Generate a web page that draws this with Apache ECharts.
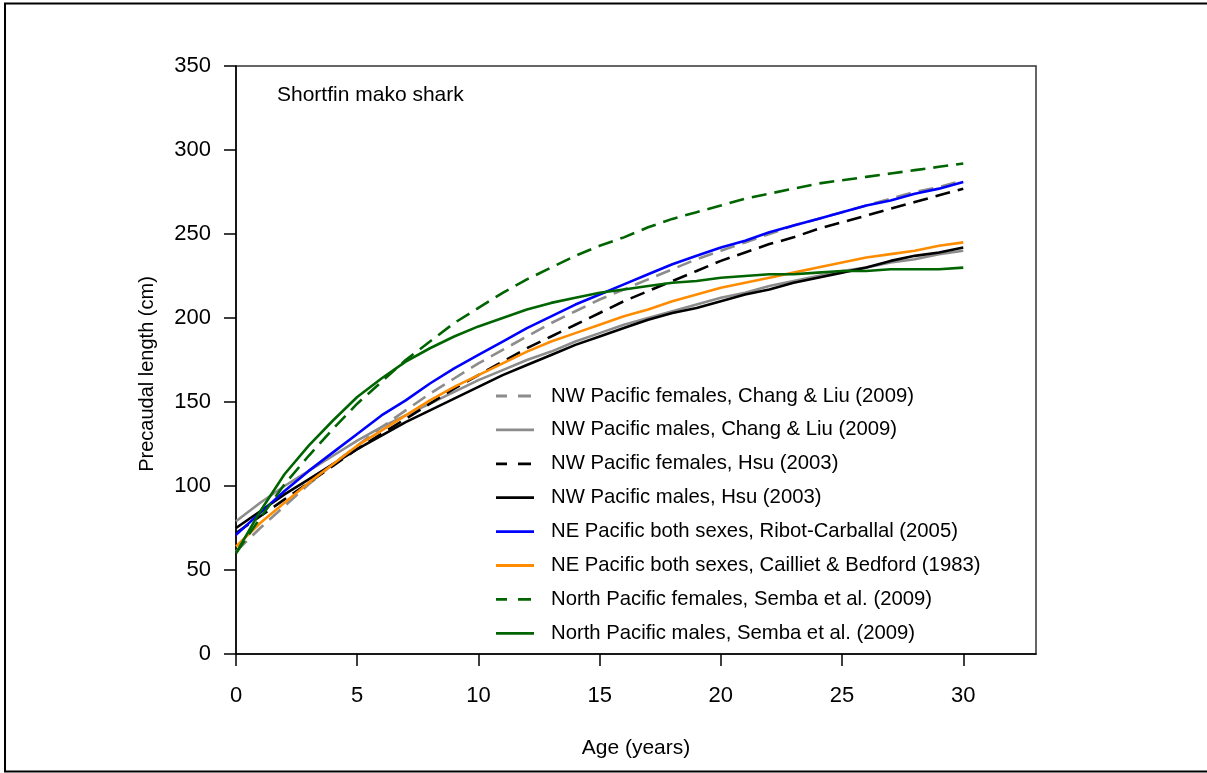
<!DOCTYPE html>
<html>
<head>
<meta charset="utf-8">
<title>Shortfin mako shark growth curves</title>
<script src="https://cdn.jsdelivr.net/npm/echarts@6/dist/echarts.min.js"></script>
<style>
  html, body { margin: 0; padding: 0; background: #fff; }
  #chart { width: 1207px; height: 773px; }
</style>
</head>
<body>
<div id="chart"></div>
<script>
// Age in years
const ages = [0, 1, 2, 3, 4, 5, 6, 7, 8, 9, 10, 11, 12, 13, 14, 15, 16, 17, 18, 19, 20,
              21, 22, 23, 24, 25, 26, 27, 28, 29, 30];

// Precaudal length (cm) at each age
const nwFemChangLiu = [61, 75, 88, 101, 113, 124, 135, 145, 155, 164, 173, 181, 189, 197, 204, 211,
                       217, 223, 229, 235, 240, 245, 250, 255, 259, 263, 267, 271, 275, 278, 282];
const nwMaleChangLiu = [79, 90, 100, 109, 118, 127, 135, 142, 149, 156, 163, 169, 175, 180, 186, 191,
                        196, 200, 204, 208, 212, 215, 219, 222, 225, 228, 230, 233, 235, 238, 240];
const nwFemHsu = [72, 82, 92, 102, 112, 122, 131, 140, 149, 158, 166, 174, 182, 189, 196, 203,
                  210, 216, 222, 228, 234, 239, 244, 248, 253, 257, 261, 265, 269, 273, 277];
const nwMaleHsu = [75, 85, 95, 104, 113, 122, 130, 138, 145, 152, 159, 166, 172, 178, 184, 189,
                   194, 199, 203, 206, 210, 214, 217, 221, 224, 227, 230, 234, 237, 239, 242];
const neRibot = [71, 84, 97, 109, 120, 131, 142, 151, 161, 170, 178, 186, 194, 201, 208, 214,
                 220, 226, 232, 237, 242, 246, 251, 255, 259, 263, 267, 270, 274, 277, 281];
const neCailliet = [64, 78, 90, 102, 113, 124, 133, 142, 151, 159, 166, 173, 180, 186, 191, 196,
                    201, 205, 210, 214, 218, 221, 224, 227, 230, 233, 236, 238, 240, 243, 245];
const nFemSemba = [60, 81, 101, 118, 134, 149, 162, 175, 186, 197, 206, 215, 223, 230, 237, 243,
                   248, 254, 259, 263, 267, 271, 274, 277, 280, 282, 284, 286, 288, 290, 292];
const nMaleSemba = [60, 85, 107, 124, 139, 153, 164, 174, 182, 189, 195, 200, 205, 209, 212, 215,
                    217, 219, 221, 222, 224, 225, 226, 226, 227, 228, 228, 229, 229, 229, 230];

const seriesNames = [
  'NW Pacific females, Chang & Liu (2009)',
  'NW Pacific males, Chang & Liu (2009)',
  'NW Pacific females, Hsu (2003)',
  'NW Pacific males, Hsu (2003)',
  'NE Pacific both sexes, Ribot-Carballal (2005)',
  'NE Pacific both sexes, Cailliet & Bedford (1983)',
  'North Pacific females, Semba et al. (2009)',
  'North Pacific males, Semba et al. (2009)'
];
const seriesValues = [nwFemChangLiu, nwMaleChangLiu, nwFemHsu, nwMaleHsu,
                      neRibot, neCailliet, nFemSemba, nMaleSemba];
const seriesColors = ['#8c8c8c', '#8c8c8c', '#000000', '#000000',
                      '#0000ff', '#ff8c00', '#006400', '#006400'];
const seriesDashed = [true, false, true, false, false, false, true, false];

const xTicks = [0, 5, 10, 15, 20, 25, 30];
const yTicks = [0, 50, 100, 150, 200, 250, 300, 350];

const FONT = '"Liberation Sans", Arial, Helvetica, sans-serif';

// Legend keys: a short solid bar, or two dashes (the trailing zero-width
// rectangle keeps both keys the same overall width)
const ICON_SOLID = 'path://M0,0h38v2.8h-38z';
const ICON_DASHED = 'path://M0,0h11v2.8h-11zM22,0h13v2.8h-13zM38,0h0v2.8h0z';

const chart = echarts.init(document.getElementById('chart'), null, { renderer: 'canvas' });

const series = seriesNames.map((name, i) => ({
  name: name,
  type: 'line',
  data: ages.map((a, j) => [a, seriesValues[i][j]]),
  symbol: 'none',
  smooth: false,
  color: seriesColors[i],
  lineStyle: {
    color: seriesColors[i],
    width: 2.6,
    type: seriesDashed[i] ? [15, 8] : 'solid'
  },
  emphasis: { disabled: true }
}));

chart.setOption({
  animation: false,
  backgroundColor: '#ffffff',
  textStyle: { fontFamily: FONT, color: '#000' },
  grid: {
    left: 236, right: 171, top: 66, bottom: 119,
    show: true,
    borderColor: '#333',
    borderWidth: 1.5,
    backgroundColor: 'transparent',
    containLabel: false
  },
  xAxis: {
    type: 'value',
    min: 0, max: 33, interval: 5,
    name: 'Age (years)',
    nameLocation: 'middle',
    nameGap: 84,
    nameTextStyle: { fontFamily: FONT, fontSize: 21, color: '#000' },
    axisLine: { show: true, onZero: false, lineStyle: { color: '#000', width: 1.5 } },
    axisTick: { show: true, inside: false, length: 12, customValues: xTicks,
                lineStyle: { color: '#000', width: 1.5 } },
    axisLabel: { show: true, margin: 31, customValues: xTicks,
                 fontFamily: FONT, fontSize: 22, color: '#000' },
    splitLine: { show: false }
  },
  yAxis: {
    type: 'value',
    min: 0, max: 350, interval: 50,
    axisLine: { show: true, onZero: false, lineStyle: { color: '#000', width: 1.5 } },
    axisTick: { show: true, inside: false, length: 12, customValues: yTicks,
                lineStyle: { color: '#000', width: 1.5 } },
    axisLabel: { show: true, margin: 25, customValues: yTicks,
                 fontFamily: FONT, fontSize: 22, color: '#000' },
    splitLine: { show: false }
  },
  legend: {
    orient: 'vertical',
    left: 496,
    top: 386,
    itemWidth: 38,
    itemHeight: 20,
    itemGap: 13.9,
    padding: 0,
    selectedMode: false,
    textStyle: { fontFamily: FONT, fontSize: 20.3, color: '#000', padding: [0, 0, 0, 12], lineHeight: 20 },
    data: seriesNames.map((name, i) => ({
      name: name,
      icon: seriesDashed[i] ? ICON_DASHED : ICON_SOLID,
      itemStyle: { color: seriesColors[i] }
    }))
  },
  graphic: [
    {
      type: 'rect',
      silent: true,
      shape: { x: 5, y: 3.5, width: 1205, height: 768 },
      style: { fill: 'none', stroke: '#000', lineWidth: 2 }
    },
    {
      type: 'text',
      silent: true,
      left: 277, top: 85,
      style: { text: 'Shortfin mako shark', font: '21px ' + FONT, fill: '#000' }
    },
    {
      type: 'text',
      silent: true,
      x: 147, y: 374,
      rotation: Math.PI / 2,
      style: { text: 'Precaudal length (cm)', font: '20px ' + FONT, fill: '#000',
               align: 'center', verticalAlign: 'middle' }
    }
  ],
  series: series
});
</script>
</body>
</html>
